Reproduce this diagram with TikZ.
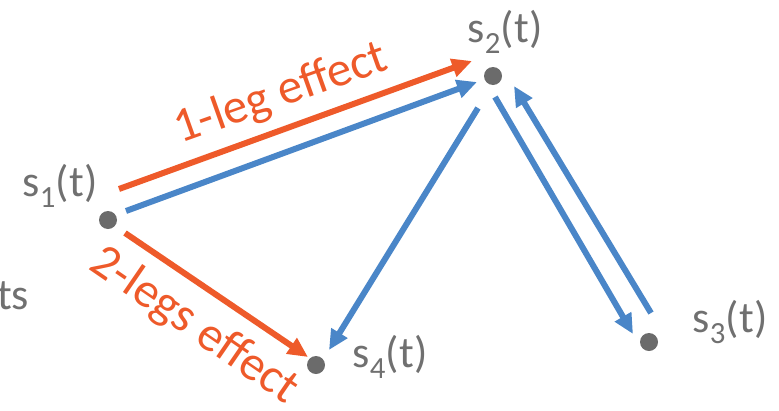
\documentclass[tikz,border=0pt]{standalone}
\usepackage{fontspec}
\setmainfont{Carlito}
\usetikzlibrary{arrows.meta}
\definecolor{legred}{HTML}{EE5A2A}
\definecolor{legblue}{HTML}{4A86C8}
\definecolor{dotgray}{HTML}{6B6B6B}
\definecolor{txtgray}{HTML}{707070}
\tikzset{
  state/.style={circle, fill=dotgray, minimum size=18pt, inner sep=0pt},
  lbl/.style={text=txtgray, font=\fontsize{44}{50}\selectfont, inner sep=0pt},
  eff/.style={text=legred, font=\fontsize{49}{55}\selectfont, inner sep=0pt},
  leg/.style={line width=6pt, -{Triangle[length=20pt, width=18pt]}},
}
\begin{document}
\begin{tikzpicture}[x=1pt, y=-1pt]
  \useasboundingbox (0,0) rectangle (779,410);
  % states
  \node[state] (s1) at (108,220) {};
  \node[state] (s2) at (493,76) {};
  \node[state] (s3) at (649,342) {};
  \node[state] (s4) at (316,365) {};
  \node[lbl] (l1) at (60,186) {s\textsubscript{1}(t)};
  \node[lbl] (l2) at (505,32) {s\textsubscript{2}(t)};
  \node[lbl] (l3) at (730,322) {s\textsubscript{3}(t)};
  \node[lbl] (l4) at (390,357) {s\textsubscript{4}(t)};
  \node[lbl, anchor=west] (ts) at (-3,296) {ts};
  % arrow ends
  \coordinate (a1) at (119,189);
  \coordinate (a2) at (472,61);
  \coordinate (b1) at (126,211);
  \coordinate (b2) at (477,82);
  \coordinate (c1) at (125,233);
  \coordinate (c2) at (308,357);
  \coordinate (d1) at (478,108);
  \coordinate (d2) at (329,350);
  \coordinate (e1) at (495,97);
  \coordinate (e2) at (633,334);
  \coordinate (f1) at (651,313);
  \coordinate (f2) at (514,86);
  \draw[leg, legred] (a1) -- (a2);
  \draw[leg, legblue] (b1) -- (b2);
  \draw[leg, legred] (c1) -- (c2);
  \draw[leg, legblue] (d1) -- (d2);
  \draw[leg, legblue] (e1) -- (e2);
  \draw[leg, legblue] (f1) -- (f2);
  % effect labels
  \node[eff, rotate=19.6] (one) at (281,94) {1-leg effect};
  \node[eff, rotate=-34.5] (two) at (194,326) {2-legs effect};
\end{tikzpicture}
\end{document}
